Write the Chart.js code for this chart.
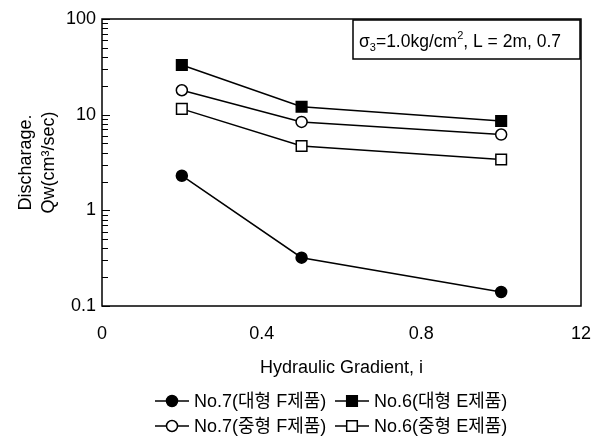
<!DOCTYPE html>
<html><head><meta charset="utf-8">
<script src="https://cdn.jsdelivr.net/npm/chart.js@4"></script>
<style>html,body{margin:0;padding:0;background:#fff}#w{width:603px;height:443px}</style>
</head><body><div id="w"><canvas id="c" width="603" height="443"></canvas></div>
<script>
const gradients = [0.2, 0.5, 1.0];
const no7Large = [2.3, 0.32, 0.14];
const no6Large = [33, 12.1, 8.6];
const no7Medium = [18, 8.4, 6.2];
const no6Medium = [11.5, 4.7, 3.4];
const seriesLabels = ['No.7(대형 F제품)', 'No.6(대형 E제품)', 'No.7(중형 F제품)', 'No.6(중형 E제품)'];
const xTicks = [0, 0.4, 0.8, 1.2];
const xTickLabels = ['0', '0.4', '0.8', '12'];
const yTicks = [0.1, 1, 10, 100];
const yTickLabels = ['0.1', '1', '10', '100'];

const FONT = "'Liberation Sans', Arial, 'Noto Sans CJK KR', sans-serif";

function ds(label, values, style, filled, r) {
  return {
    label: label,
    data: gradients.map((x, i) => ({x: x, y: values[i]})),
    borderColor: '#000', borderWidth: 1.5,
    pointStyle: style, pointRadius: r, pointHoverRadius: r,
    pointBackgroundColor: filled ? '#000' : '#fff',
    pointBorderColor: '#000', pointBorderWidth: 1.5,
    fill: false, tension: 0
  };
}

const framePlugin = {
  id: 'frame',
  afterDraw(chart) {
    const {ctx, chartArea: a, scales} = chart;
    const ys = scales.y;
    ctx.save();
    ctx.strokeStyle = '#000';
    ctx.lineWidth = 1.5;
    ctx.strokeRect(a.left, a.top, a.right - a.left, a.bottom - a.top);
    ctx.lineWidth = 1;
    for (const d of [0.1, 1, 10]) {
      for (let k = 1; k <= 10; k++) {
        const y = Math.round(ys.getPixelForValue(d * k)) + 0.5;
        const len = (k === 1 || k === 10) ? 8 : 6;
        ctx.beginPath(); ctx.moveTo(a.left, y); ctx.lineTo(a.left + len, y); ctx.stroke();
      }
    }
    const bx = a.right - 228, by = a.top + 1, bw = 227, bh = 39;
    ctx.fillStyle = '#fff';
    ctx.fillRect(bx, by, bw, bh);
    ctx.lineWidth = 1.5;
    ctx.strokeRect(bx, by, bw, bh);
    ctx.fillStyle = '#000';
    ctx.textBaseline = 'alphabetic';
    let x = bx + 6; const base = by + 27;
    const big = '17.5px ' + FONT, small = '11px ' + FONT;
    const parts = [['σ', big, 0], ['3', small, 4], ['=1.0kg/cm', big, 0], ['2', small, -8], [', L = 2m, 0.7', big, 0]];
    for (const [t, f, dy] of parts) {
      ctx.font = f; ctx.fillText(t, x, base + dy); x += ctx.measureText(t).width;
    }
    const pos = [[155, 401], [335, 401], [155, 426], [335, 426]];
    ctx.font = '18px ' + FONT;
    ctx.textBaseline = 'middle';
    [0, 1, 2, 3].forEach((di, i) => {
      const d = chart.data.datasets[di];
      const [lx, ly] = pos[i];
      ctx.lineWidth = 1.5; ctx.strokeStyle = '#000';
      ctx.beginPath(); ctx.moveTo(lx, ly); ctx.lineTo(lx + 34, ly); ctx.stroke();
      ctx.fillStyle = d.pointBackgroundColor;
      Chart.helpers.drawPoint(ctx, {pointStyle: d.pointStyle, radius: d.pointRadius, borderWidth: 1.5, rotation: 0}, lx + 17, ly);
      ctx.fillStyle = '#000';
      ctx.fillText(d.label, lx + 39, ly + 1);
    });
    ctx.restore();
  }
};

new Chart(document.getElementById('c'), {
  type: 'line',
  data: {
    datasets: [
      ds(seriesLabels[0], no7Large, 'circle', true, 5.5),
      ds(seriesLabels[1], no6Large, 'rect', true, 7.5),
      ds(seriesLabels[2], no7Medium, 'circle', false, 5.5),
      ds(seriesLabels[3], no6Medium, 'rect', false, 7.5)
    ]
  },
  options: {
    responsive: false, animation: false, devicePixelRatio: 1,
    layout: {padding: {left: 0, right: 22, top: 19, bottom: 0}},
    plugins: {legend: {display: false}, tooltip: {enabled: false}},
    scales: {
      x: {
        type: 'linear', min: 0, max: 1.2,
        afterBuildTicks(s) { s.ticks = xTicks.map(v => ({value: v})); },
        afterFit(s) { s.height = 137; },
        grid: {display: false, drawTicks: true, tickLength: 15},
        border: {display: false},
        ticks: {
          padding: 2, color: '#000', maxRotation: 0, autoSkip: false,
          font: {family: FONT, size: 18},
          callback(v, i) { return xTickLabels[i]; }
        },
        title: {display: true, text: 'Hydraulic Gradient, i', color: '#000',
          font: {family: FONT, size: 18}, padding: {top: 4, bottom: 64}}
      },
      y: {
        type: 'logarithmic', min: 0.1, max: 100,
        afterBuildTicks(s) { s.ticks = yTicks.map(v => ({value: v})); },
        afterFit(s) { s.width = 102; },
        grid: {display: false, drawTicks: false},
        border: {display: false},
        ticks: {
          padding: 6, color: '#000', autoSkip: false,
          font: {family: FONT, size: 18},
          callback(v, i) { return yTickLabels[i]; }
        },
        title: {display: true, text: ['Discharage.', 'Qw(cm³/sec)'], color: '#000',
          font: {family: FONT, size: 18, lineHeight: 1.3}, padding: {top: 14, bottom: 0}}
      }
    }
  },
  plugins: [framePlugin]
});
</script>
</body></html>
